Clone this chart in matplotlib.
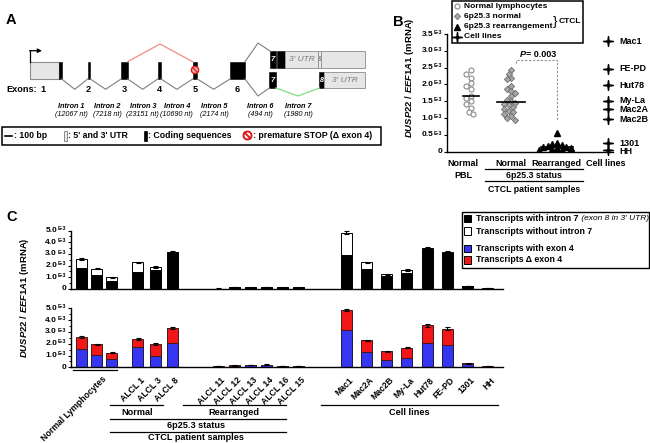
import numpy as np
import matplotlib
matplotlib.use('Agg')
import matplotlib.pyplot as plt
from matplotlib.patches import Rectangle, Circle
from matplotlib.path import Path
from matplotlib.transforms import ScaledTranslation

plt.rcParams['font.family'] = ['Liberation Sans', 'DejaVu Sans']
plt.rcParams['font.weight'] = 'bold'
plt.rcParams['mathtext.fontset'] = 'custom'
plt.rcParams['mathtext.it'] = 'Liberation Sans:italic:bold'
plt.rcParams['mathtext.rm'] = 'Liberation Sans:bold'
plt.rcParams['mathtext.bf'] = 'Liberation Sans:bold'

# ---------------- data ----------------
# Panel A (gene structure)
exon_labels = ['1', '2', '3', '4', '5', '6']
intron_names = ['Intron 1', 'Intron 2', 'Intron 3', 'Intron 4', 'Intron 5', 'Intron 6', 'Intron 7']
intron_sizes = ['(12067 nt)', '(7218 nt)', '(23151 nt)', '(10690 nt)', '(2174 nt)', '(494 nt)', '(1980 nt)']

# Panel B
pbl_normal = [2.42, 2.32, 2.20, 2.05, 1.95, 1.85, 1.65, 1.60, 1.50, 1.42, 1.30, 1.18, 1.12]
ctcl_normal = [2.42, 2.30, 2.18, 2.15, 1.95, 1.85, 1.80, 1.74, 1.65, 1.55, 1.50,
               1.45, 1.42, 1.38, 1.33, 1.28, 1.22, 1.17, 1.12, 1.05, 1.00, 0.95]
ctcl_rearranged = [0.55, 0.25, 0.22, 0.20, 0.18, 0.15, 0.15, 0.12, 0.10, 0.08, 0.05, 0.05]
b_cell_names = ['Mac1', 'FE-PD', 'Hut78', 'My-La', 'Mac2A', 'Mac2B', '1301', 'HH']
b_cell_values = [3.28, 2.47, 1.97, 1.51, 1.27, 0.97, 0.25, 0.05]
b_categories = ['Normal', 'Normal', 'Rearranged', 'Cell lines']
b_yticks = [0, 0.5, 1.0, 1.5, 2.0, 2.5, 3.0, 3.5]
p_value = '= 0.003'

# Panel C
group_names = ['Normal Lymphocytes', 'Normal', 'Rearranged', 'Cell lines']
alcl_normal = ['ALCL 1', 'ALCL 3', 'ALCL 8']
alcl_rearranged = ['ALCL 11', 'ALCL 12', 'ALCL 13', 'ALCL 14', 'ALCL 16', 'ALCL 15']
cell_lines = ['Mac1', 'Mac2A', 'Mac2B', 'My-La', 'Hut78', 'FE-PD', '1301', 'HH']
# order: 3 normal lymphocytes, 3 ALCL normal, 6 ALCL rearranged, 8 cell lines
with_intron7 = [1.80, 1.20, 0.68, 1.45, 1.60, 3.15,
                0.04, 0.18, 0.14, 0.18, 0.13, 0.13,
                2.90, 1.68, 1.11, 1.40, 3.40, 3.10, 0.26, 0.06]
without_intron7 = [0.74, 0.52, 0.34, 0.83, 0.31, 0.05,
                   0.00, 0.00, 0.00, 0.00, 0.00, 0.00,
                   1.92, 0.60, 0.15, 0.22, 0.08, 0.09, 0.00, 0.00]
intron7_err = [0.08, 0.05, 0.04, 0.06, 0.08, 0.07,
               0.01, 0.02, 0.02, 0.02, 0.02, 0.02,
               0.15, 0.06, 0.04, 0.06, 0.12, 0.07, 0.02, 0.01]
with_exon4 = [1.54, 1.03, 0.68, 1.76, 0.97, 2.05,
              0.08, 0.12, 0.16, 0.18, 0.10, 0.08,
              3.20, 1.28, 0.66, 0.77, 2.05, 1.85, 0.28, 0.06]
delta_exon4 = [1.02, 0.92, 0.57, 0.63, 1.00, 1.25,
               0.02, 0.04, 0.04, 0.04, 0.02, 0.02,
               1.65, 1.00, 0.68, 0.89, 1.51, 1.43, 0.06, 0.02]
exon4_err = [0.08, 0.05, 0.04, 0.06, 0.07, 0.08,
             0.01, 0.02, 0.02, 0.02, 0.02, 0.02,
             0.12, 0.06, 0.05, 0.05, 0.15, 0.14, 0.02, 0.01]
c_yticks = [0, 1.0, 2.0, 3.0, 4.0, 5.0]

# ---------------- layout helpers ----------------
W, H = 650, 443
fig = plt.figure(figsize=(W / 100, H / 100), dpi=100)


def frect(x0, y0, x1, y1):
    return [x0 / W, 1 - y1 / H, (x1 - x0) / W, (y1 - y0) / H]


ov = fig.add_axes([0, 0, 1, 1], zorder=10)
ov.set_xlim(0, W)
ov.set_ylim(H, 0)
ov.set_axis_off()

FS = 6.3
GL = '#7f7f7f'

# ================= Panel A =================
ov.text(6, 20, 'A', fontsize=10.5, fontweight='bold', va='center')
rt, rb = 61.7, 79.0
ov.add_patch(Rectangle((30, rt), 29.3, rb - rt, fc='#e6e6e6', ec='#8c8c8c', lw=0.8))
coding = [(59.3, 61.7), (87.7, 90.3), (121, 127.7), (157.7, 161), (192.7, 197.3), (230, 245)]
for x0, x1 in coding:
    ov.add_patch(Rectangle((x0, rt), x1 - x0, rb - rt, fc='black', ec='black', lw=0.4))
for (a0, a1), (b0, b1) in zip(coding[:-1], coding[1:]):
    xm = (a1 + b0) / 2
    ov.plot([a1, xm, b0], [rb, 89.3, rb], color=GL, lw=0.8)
ov.plot([127.7, 160, 192.7], [rt, 44, rt], color='#f08a8a', lw=0.9)
ov.plot([30, 30], [rt, 50.7], color='black', lw=0.9)
ov.annotate('', xy=(42, 50.7), xytext=(29.6, 50.7),
            arrowprops=dict(arrowstyle='-|>', lw=0.9, color='black', mutation_scale=6, shrinkA=0, shrinkB=0))
ov.add_patch(Circle((195, 70), 3.6, fc='#f6b0b0', ec='#e01818', lw=1.0))
ov.plot([192.5, 197.5], [67.5, 72.5], color='#e01818', lw=0.9)
ov.plot([245, 258, 270], [rt, 43, 51], color=GL, lw=0.8)
ov.plot([245, 258, 269.3], [rb, 96, 88], color=GL, lw=0.8)
ut, ub = 51, 68
ov.add_patch(Rectangle((270, ut), 5.5, ub - ut, fc='black', ec='black', lw=0.4))
ov.text(272.7, (ut + ub) / 2, '7', color='white', fontsize=5.5, ha='center', va='center', style='italic')
ov.add_patch(Rectangle((276.5, ut), 8.5, ub - ut, fc='black', ec='black', lw=0.4))
ov.add_patch(Rectangle((285, ut), 33.3, ub - ut, fc='#e6e6e6', ec='#9a9a9a', lw=0.7))
ov.text(301.5, (ut + ub) / 2, "3' UTR", color='#7a7a7a', fontsize=6, ha='center', va='center',
        style='italic', fontweight='normal')
ov.add_patch(Rectangle((318.3, ut), 2.8, ub - ut, fc='#e6e6e6', ec='#9a9a9a', lw=0.7))
ov.text(319.7, (ut + ub) / 2, '8', color='#8a8a8a', fontsize=5, ha='center', va='center', style='italic')
ov.add_patch(Rectangle((321.1, ut), 43.9, ub - ut, fc='#e6e6e6', ec='#9a9a9a', lw=0.7))
lt, lb = 72, 88
ov.add_patch(Rectangle((269.3, lt), 6.5, lb - lt, fc='black', ec='black', lw=0.4))
ov.text(272.5, (lt + lb) / 2, '7', color='white', fontsize=5.5, ha='center', va='center', style='italic')
ov.plot([275.8, 298, 319.3], [lb, 96, lb], color='#7ee07e', lw=0.9)
ov.add_patch(Rectangle((319.3, lt), 4.7, lb - lt, fc='black', ec='black', lw=0.4))
ov.text(321.6, (lt + lb) / 2, '8', color='white', fontsize=5, ha='center', va='center', style='italic')
ov.add_patch(Rectangle((324, lt), 41, lb - lt, fc='#e6e6e6', ec='#9a9a9a', lw=0.7))
ov.text(344.5, (lt + lb) / 2, "3' UTR", color='#7a7a7a', fontsize=6, ha='center', va='center',
        style='italic', fontweight='normal')
ov.text(6, 89, 'Exons:', fontsize=6.6, ha='left', va='center')
for lab, xc in zip(exon_labels, [43.3, 88.3, 124.3, 159.3, 195, 236.7]):
    ov.text(xc, 89, lab, fontsize=6.6, ha='center', va='center')
for nm, sz, xc in zip(intron_names, intron_sizes, [71, 107, 142.7, 176.7, 214.3, 260, 298.3]):
    ov.text(xc, 106, nm, fontsize=5.2, ha='center', va='center', style='italic', fontweight='bold')
    ov.text(xc, 114.5, sz, fontsize=5.2, ha='center', va='center', style='italic', fontweight='normal')
ov.add_patch(Rectangle((2, 126.5), 379, 18, fc='none', ec='black', lw=1.1))
ly = 135.5
ov.plot([5, 12], [ly, ly], color='black', lw=1.2)
ov.text(14, ly, ': 100 bp', fontsize=FS, va='center')
ov.add_patch(Rectangle((63.5, ly - 5), 3.2, 10, fc='#e6e6e6', ec='#8c8c8c', lw=0.7))
ov.text(68, ly, ": 5' and 3' UTR", fontsize=FS, va='center')
ov.add_patch(Rectangle((143.5, ly - 5), 3.2, 10, fc='black', ec='black', lw=0.5))
ov.text(148.5, ly, ': Coding sequences', fontsize=FS, va='center')
ov.add_patch(Circle((247.5, ly), 4.0, fc='white', ec='#e01818', lw=1.4))
ov.plot([244.7, 250.3], [ly - 2.8, ly + 2.8], color='#e01818', lw=1.4)
ov.text(253, ly, ': premature STOP (\u0394 exon 4)', fontsize=FS, va='center')


def ylabels(ax, ticks, fs=6.0, sfs=3.9, gap=3.2):
    tr = ax.get_yaxis_transform()
    for v in ticks:
        if v == 0:
            ax.text(0, v, '0', transform=tr + ScaledTranslation(-gap / 72, 0, fig.dpi_scale_trans),
                    ha='right', va='center', fontsize=fs)
        else:
            ax.text(0, v, 'E-3', transform=tr + ScaledTranslation(-gap / 72, 1.3 / 72, fig.dpi_scale_trans),
                    ha='right', va='center', fontsize=sfs)
            ax.text(0, v, f'{v:.1f}', transform=tr + ScaledTranslation(-(gap + 6.6) / 72, 0, fig.dpi_scale_trans),
                    ha='right', va='center', fontsize=fs)


def style_axes(ax):
    for s in ['top', 'right']:
        ax.spines[s].set_visible(False)
    for s in ['left', 'bottom']:
        ax.spines[s].set_linewidth(1.0)
    ax.set_xticks([])
    ax.tick_params(axis='y', length=2.5, width=0.8, labelleft=False)


# ================= Panel B =================
ov.text(393, 22, 'B', fontsize=10.5, fontweight='bold', va='center')
axB = fig.add_axes(frect(447, 34, 613, 151.7))
axB.set_xlim(447, 613)
axB.set_ylim(0, 3.5)
style_axes(axB)
axB.set_yticks(b_yticks)
ylabels(axB, b_yticks)
yscale = 117.7 / 3.5


def swarm(vals, center, d):
    vals = np.asarray(vals, float)
    xs = np.zeros(len(vals))
    placed = []
    for i in np.argsort(vals)[::-1]:
        y = vals[i] * yscale
        for k in [0, -1, 1, -2, 2, -3, 3, -4, 4, -5, 5, -6, 6, -7, 7, -8, 8]:
            x = k * d * 0.5
            if all((x - px) ** 2 + (y - py) ** 2 >= d * d for px, py in placed):
                break
        placed.append((x, y))
        xs[i] = center + x
    return xs


cB = [471, 511, 557, 608]
axB.plot(swarm(pbl_normal, cB[0], 4.6), pbl_normal, 'o', ms=3.6, mfc='white', mec='#8a8a8a', mew=0.8, ls='none')
axB.plot(swarm(ctcl_normal, cB[1], 4.4), ctcl_normal, 'D', ms=3.2, mfc='#a6a6a6', mec='#6e6e6e', mew=0.6, ls='none')
axB.plot(swarm(ctcl_rearranged, cB[2], 4.6), ctcl_rearranged, '^', ms=4.2, mfc='black', mec='black', ls='none')
star = Path([(0, 1), (0.13, 0.13), (1, 0), (0.13, -0.13), (0, -1), (-0.13, -0.13), (-1, 0), (-0.13, 0.13), (0, 1)],
            [Path.MOVETO] + [Path.LINETO] * 7 + [Path.CLOSEPOLY])
axB.plot([cB[3]] * len(b_cell_values), b_cell_values, marker=star, ms=7, color='black', ls='none', clip_on=False)
lab_y = [v * yscale for v in b_cell_values]
for i in range(1, len(lab_y)):
    if lab_y[i - 1] - lab_y[i] < 8.5:
        lab_y[i] = lab_y[i - 1] - 8.5
for nm, yp in zip(b_cell_names, lab_y):
    axB.text(619, yp / yscale, nm, fontsize=6.5, ha='left', va='center', clip_on=False)
for xc, vals, hw in zip(cB[:3], [pbl_normal, ctcl_normal, ctcl_rearranged], [8, 14, 16]):
    m = np.median(vals)
    axB.plot([xc - hw, xc + hw], [m, m], color='black', lw=1.2)
axB.plot([516, 516, 557, 557], [2.64, 2.74, 2.74, 0.92], color='#909090', lw=0.8, ls=(0, (2, 1.5)))
tP = axB.text(523, 2.89, 'P', fontsize=6.5, style='italic', ha='center', va='center')
axB.annotate(p_value, xy=(1, 0.5), xycoords=tP, ha='left', va='center', fontsize=6.5)
for xc, lab in zip([463, 511, 556, 606], b_categories):
    ov.text(xc, 163.5, lab, fontsize=6.5, ha='center', va='center')
ov.text(463, 175, 'PBL', fontsize=6.5, ha='center', va='center')
ov.plot([485, 583], [169.3, 169.3], color='black', lw=0.9)
ov.text(534, 175, '6p25.3 status', fontsize=6.3, ha='center', va='center')
ov.plot([485, 583], [180.7, 180.7], color='black', lw=0.9)
ov.text(534, 189.5, 'CTCL patient samples', fontsize=6.3, ha='center', va='center')
ov.text(410, 78, r'$\mathit{DUSP22\ /\ EEF1A1}$ (mRNA)', rotation=90, fontsize=6.8, ha='center', va='center')
# legend B
ov.add_patch(Rectangle((452, 1.2), 131, 42, fc='white', ec='black', lw=1.1))
rows = [6.3, 16.4, 26.6, 36.7]
ov.plot(457, rows[0], 'o', ms=3.6, mfc='white', mec='#8a8a8a', mew=0.8)
ov.plot(457, rows[1], 'D', ms=3.2, mfc='#a6a6a6', mec='#6e6e6e', mew=0.6)
ov.plot(457, rows[2], '^', ms=4.2, color='black')
ov.plot(457, rows[3], marker=star, ms=7, color='black')
for yy, t in zip(rows, ['Normal lymphocytes', '6p25.3 normal', '6p25.3 rearrangement', 'Cell lines']):
    ov.text(464.5, yy, t, fontsize=6.0, ha='left', va='center')
ov.text(555, 21.5, '}', fontsize=9.5, fontweight='normal', ha='center', va='center')
ov.text(559, 21.5, 'CTCL', fontsize=6.0, ha='left', va='center')

# ================= Panel C =================
ov.text(6, 217, 'C', fontsize=10.5, fontweight='bold', va='center')
group_sizes = [3, 3, 6, 8]
group_start = [81.3, 137.7, 218.0, 346.3]
group_step = [15.3, 17.3, 16.0, 20.2]
xpos = np.concatenate([s + st * np.arange(n) for s, st, n in zip(group_start, group_step, group_sizes)])
BW = 11
BLUE = '#3535f2'
RED = '#f21616'

axC1 = fig.add_axes(frect(70.7, 230.5, 503, 289))
axC2 = fig.add_axes(frect(70.7, 308.3, 503, 367.3))
for ax in (axC1, axC2):
    ax.set_xlim(70.7, 503)
    ax.set_ylim(0, 5.0)
    style_axes(ax)
    ax.set_yticks(c_yticks)
    ax.set_yticks(np.arange(0.5, 5.0, 1.0), minor=True)
    ax.tick_params(axis='y', which='minor', length=1.6, width=0.7)
    ylabels(ax, c_yticks)

w7 = np.array(with_intron7)
wo7 = np.array(without_intron7)
axC1.bar(xpos, w7, BW, color='black', edgecolor='black', lw=0.7)
axC1.bar(xpos, wo7, BW, bottom=w7, color='white', edgecolor='black', lw=0.7)
axC1.errorbar(xpos, w7 + wo7, yerr=intron7_err, fmt='none', ecolor='black', elinewidth=0.8, capsize=1.8, capthick=0.8)

e4 = np.array(with_exon4)
d4 = np.array(delta_exon4)
axC2.bar(xpos, e4, BW, color=BLUE, edgecolor='#1a1a40', lw=0.7)
axC2.bar(xpos, d4, BW, bottom=e4, color=RED, edgecolor='#401a1a', lw=0.7)
axC2.errorbar(xpos, e4 + d4, yerr=exon4_err, fmt='none', ecolor='black', elinewidth=0.8, capsize=1.8, capthick=0.8)

ov.text(25, 298, r'$\mathit{DUSP22\ /\ EEF1A1}$ (mRNA)', rotation=90, fontsize=6.8, ha='center', va='center')

axis_y = 367.3
lab_list = alcl_normal + alcl_rearranged + cell_lines
for xc, lab in zip(xpos[3:], lab_list):
    ov.text(xc + 5.5, axis_y + 11.5, lab, rotation=45, ha='right', va='center', rotation_mode='anchor', fontsize=6.2)
ov.plot([72.7, 117.3], [369.6, 369.6], color='black', lw=0.9)
ov.text(np.mean(xpos[:3]) + 8, axis_y + 10, group_names[0], rotation=45, ha='right', va='center',
        rotation_mode='anchor', fontsize=6.2)
ov.plot([110, 163.3], [405, 405], color='black', lw=0.9)
ov.text(136.7, 412.7, group_names[1], fontsize=6.6, ha='center', va='center')
ov.plot([183.3, 286], [405, 405], color='black', lw=0.9)
ov.text(234, 412.7, group_names[2], fontsize=6.6, ha='center', va='center')
ov.plot([110, 286], [419.3, 419.3], color='black', lw=0.9)
ov.text(196, 425.5, '6p25.3 status', fontsize=6.6, ha='center', va='center')
ov.plot([110, 286], [431.7, 431.7], color='black', lw=0.9)
ov.text(196, 438, 'CTCL patient samples', fontsize=6.6, ha='center', va='center')
ov.plot([321, 498], [405, 405], color='black', lw=0.9)
ov.text(409, 412.7, group_names[3], fontsize=6.6, ha='center', va='center')

# legend C
ov.add_patch(Rectangle((461.7, 211.7), 187, 56.6, fc='white', ec='black', lw=1.0))
lrows = [218.3, 231, 248.3, 260]
for yy, fc in zip(lrows, ['black', 'white', BLUE, RED]):
    ov.add_patch(Rectangle((463.5, yy - 3.6), 7.6, 7.2, fc=fc, ec='black', lw=0.7))
t1 = ov.text(476.5, lrows[0], 'Transcripts with intron 7', fontsize=6.3, ha='left', va='center')
ov.annotate(" (exon 8 in 3' UTR)", xy=(1, 0.5), xycoords=t1, ha='left', va='center', fontsize=6.0,
            style='italic', fontweight='normal')
ov.text(476.5, lrows[1], 'Transcripts without intron 7', fontsize=6.3, ha='left', va='center')
ov.text(476.5, lrows[2], 'Transcripts with exon 4', fontsize=6.3, ha='left', va='center')
ov.text(476.5, lrows[3], 'Transcripts \u0394 exon 4', fontsize=6.3, ha='left', va='center')

fig.savefig('out.png', dpi=100)
